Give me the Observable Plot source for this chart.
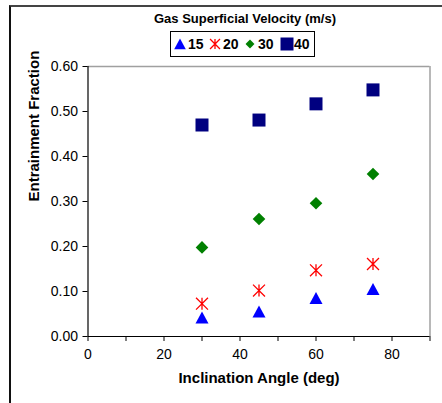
<!DOCTYPE html>
<html>
<head>
<meta charset="utf-8">
<script src="https://cdn.jsdelivr.net/npm/d3@7"></script>
<script src="https://cdn.jsdelivr.net/npm/@observablehq/plot@0.6"></script>
<style>
  html, body { margin: 0; padding: 0; background: #fff; overflow: hidden; }
  #wrap { position: relative; width: 442px; height: 403px; overflow: hidden; font-family: "Liberation Sans", Arial, sans-serif; }
  #frame { position: absolute; left: 9px; top: 5px; width: 460px; height: 420px; border-left: 2px solid #111; border-top: 2px solid #444; box-sizing: border-box; pointer-events: none; }
  #ltitle { position: absolute; left: 0; width: 490px; top: 11px; text-align: center; font-weight: bold; font-size: 13px; color: #000; }
  #legend { position: absolute; left: 170px; top: 31px; width: 145px; height: 26px; border: 1px solid #000; box-sizing: border-box; font-weight: bold; font-size: 14px; background: #fff; }
  #legend .sym { position: absolute; top: 5.5px; }
  #legend .lab { position: absolute; top: 4px; line-height: 16px; }
</style>
</head>
<body>
<div id="wrap">
  <div id="chart"></div>
  <div id="frame"></div>
  <div id="ltitle"></div>
  <div id="legend"></div>
</div>
<script>
const legendTitle = "Gas Superficial Velocity (m/s)";
const xLabel = "Inclination Angle (deg)";
const yLabel = "Entrainment Fraction";
const angles = [30, 45, 60, 75];
const seriesNames = ["15", "20", "30", "40"];
const v15 = [0.042, 0.055, 0.085, 0.105];
const v20 = [0.073, 0.102, 0.147, 0.161];
const v30 = [0.198, 0.261, 0.296, 0.361];
const v40 = [0.470, 0.481, 0.517, 0.548];
const colors = ["#0000ff", "#ff0000", "#008000", "#000080"];
const xTicks = [0, 10, 20, 30, 40, 50, 60, 70, 80, 90];
const yTicks = [0, 0.1, 0.2, 0.3, 0.4, 0.5, 0.6];

const values = [v15, v20, v30, v40];
const data = [];
seriesNames.forEach((s, i) => angles.forEach((a, j) => data.push({series: s, angle: a, value: values[i][j]})));

function rad(size) { return Math.sqrt(size / Math.PI); }
const symTriangle = { draw(ctx, size) { const r = rad(size); ctx.moveTo(0, -r * 0.95); ctx.lineTo(r, r * 0.9); ctx.lineTo(-r, r * 0.9); ctx.closePath(); } };
const symStar = { draw(ctx, size) { const r = rad(size) * 0.92; ctx.moveTo(-r, -r); ctx.lineTo(r, r); ctx.moveTo(-r, r); ctx.lineTo(r, -r); ctx.moveTo(0, -r); ctx.lineTo(0, r); } };
const symDiamond = { draw(ctx, size) { const r = rad(size) * 0.97; ctx.moveTo(0, -r); ctx.lineTo(r, 0); ctx.lineTo(0, r); ctx.lineTo(-r, 0); ctx.closePath(); } };
const symSquare = { draw(ctx, size) { const r = rad(size); ctx.rect(-r, -r, 2 * r, 2 * r); } };
const symbols = [symTriangle, symStar, symDiamond, symSquare];

const font = "Liberation Sans, Arial, sans-serif";
const chart = Plot.plot({
  width: 442,
  height: 403,
  marginLeft: 87.5,
  marginRight: 12.5,
  marginTop: 66,
  marginBottom: 67,
  style: { fontFamily: font, fontSize: "14px", color: "#000", background: "transparent" },
  x: { domain: [0, 90] },
  y: { domain: [0, 0.6] },
  symbol: { domain: seriesNames, range: symbols },
  color: { domain: seriesNames, range: colors },
  marks: [
    Plot.ruleY([0.6], { stroke: "#a0a0a0", strokeWidth: 1.5 }),
    Plot.ruleX([90], { stroke: "#a0a0a0", strokeWidth: 1.5 }),
    Plot.axisX({ ticks: xTicks, tickFormat: d => (d % 20 === 0 && d < 90) ? String(d) : "", tickSize: 5, tickPadding: 8, label: null, fontSize: 14 }),
    Plot.axisY({ ticks: yTicks, tickFormat: d3.format(".2f"), tickSize: 5, tickPadding: 5, label: null, fontSize: 14 }),
    Plot.ruleY([0], { stroke: "#000", strokeWidth: 1.2 }),
    Plot.ruleX([0], { stroke: "#000", strokeWidth: 1.2 }),
    Plot.text([xLabel], { frameAnchor: "bottom", dy: 46, fontWeight: "bold", fontSize: 15 }),
    Plot.text([yLabel], { frameAnchor: "left", dx: -54, rotate: -90, fontWeight: "bold", fontSize: 15 }),
    Plot.dot(data.filter(d => d.series !== "20"), { x: "angle", y: "value", symbol: "series", fill: "series", r: 6.5, stroke: "none" }),
    Plot.dot(data.filter(d => d.series === "20"), { x: "angle", y: "value", symbol: "series", stroke: "series", r: 6.5, strokeWidth: 1.3, fill: "none" })
  ]
});
document.getElementById("chart").appendChild(chart);

document.getElementById("ltitle").textContent = legendTitle;
const leg = document.getElementById("legend");
// legend layout (page x of symbol centres / label starts), relative to box left 170
const legSymX = [180, 215, 250, 287];
const legLabX = [188, 223, 258, 294];
const legSymR = [5.8, 5.4, 4.6, 6.5];
seriesNames.forEach((s, i) => {
  const svg = d3.create("svg").attr("width", 16).attr("height", 16).attr("class", "sym")
    .style("left", (legSymX[i] - 170 - 1 - 8) + "px").style("top", "4px").style("position", "absolute");
  const path = d3.symbol(symbols[i], Math.PI * legSymR[i] * legSymR[i])();
  const p = svg.append("path").attr("d", path).attr("transform", "translate(8,8)");
  if (i === 1) p.attr("fill", "none").attr("stroke", colors[i]).attr("stroke-width", 1.3);
  else p.attr("fill", colors[i]);
  leg.appendChild(svg.node());
  const t = document.createElement("span");
  t.className = "lab";
  t.style.left = (legLabX[i] - 170 - 1) + "px";
  t.textContent = s;
  leg.appendChild(t);
});
</script>
</body>
</html>
